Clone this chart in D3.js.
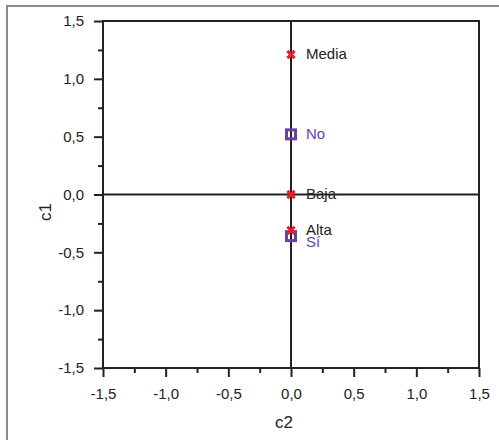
<!DOCTYPE html>
<html>
<head>
<meta charset="utf-8">
<script src="https://cdn.jsdelivr.net/npm/d3@7"></script>
<style>
  body { margin: 0; background: #fff; }
  text { font-family: "Liberation Sans", Arial, sans-serif; fill: #222; }
</style>
</head>
<body>
<svg id="chart" width="499" height="440"></svg>
<script>
// Row categories (red crosses) and column categories (purple squares)
const rowLabels = ['Media', 'Baja', 'Alta'];
const rowC2 = [0.0, 0.0, 0.0];
const rowC1 = [1.21, 0.0, -0.31];
const colLabels = ['No', 'Sí'];
const colC2 = [0.0, 0.0];
const colC1 = [0.52, -0.36];
const tickValues = [-1.5, -1.0, -0.5, 0.0, 0.5, 1.0, 1.5];
const minorTicks = [-1.25, -0.75, -0.25, 0.25, 0.75, 1.25];

function renderChart() {
  const svg = d3.select('#chart');
  const margin = {top: 21, left: 103};
  const w = 376, h = 347;
  const fmt = d => d3.format('.1f')(d).replace('.', ',').replace('−', '-');

  // outer frame (clipped by window)
  svg.append('rect')
    .attr('x', 7).attr('y', 6).attr('width', 600).attr('height', 600)
    .attr('fill', 'none').attr('stroke', '#8a8a8a').attr('stroke-width', 2);

  const g = svg.append('g').attr('transform', `translate(${margin.left},${margin.top})`);

  const x = d3.scaleLinear().domain([-1.5, 1.5]).range([0, w]);
  const y = d3.scaleLinear().domain([-1.5, 1.5]).range([h, 0]);

  // Minor ticks
  g.append('g').attr('transform', `translate(0,${h})`)
    .call(d3.axisBottom(x).tickValues(minorTicks).tickSize(5).tickFormat(''))
    .call(a => a.select('.domain').remove());
  g.append('g')
    .call(d3.axisLeft(y).tickValues(minorTicks).tickSize(5).tickFormat(''))
    .call(a => a.select('.domain').remove());

  // Major axes
  g.append('g').attr('transform', `translate(0,${h})`)
    .call(d3.axisBottom(x).tickValues(tickValues).tickSize(9).tickPadding(11).tickFormat(fmt));
  g.append('g')
    .call(d3.axisLeft(y).tickValues(tickValues).tickSize(9).tickPadding(10).tickFormat(fmt));

  g.selectAll('.tick line').attr('stroke', '#222').attr('stroke-width', 2);
  g.selectAll('.domain').remove();
  g.selectAll('.tick text').attr('font-size', '15px').attr('fill', '#222')
    .attr('font-family', '"Liberation Sans", Arial, sans-serif');

  // Plot frame
  g.append('rect').attr('width', w).attr('height', h)
    .attr('fill', 'none').attr('stroke', '#222').attr('stroke-width', 2);

  // Zero lines
  g.append('line').attr('x1', 0).attr('x2', w).attr('y1', y(0)).attr('y2', y(0))
    .attr('stroke', '#222').attr('stroke-width', 2);
  g.append('line').attr('x1', x(0)).attr('x2', x(0)).attr('y1', 0).attr('y2', h)
    .attr('stroke', '#222').attr('stroke-width', 2);

  // Column points: purple squares
  const cols = colLabels.map((l, i) => ({l, x: colC2[i], y: colC1[i]}));
  g.selectAll('rect.col').data(cols).enter().append('rect')
    .attr('class', 'col')
    .attr('x', d => x(d.x) - 4.5).attr('y', d => y(d.y) - 4.5)
    .attr('width', 9).attr('height', 9)
    .attr('fill', 'none').attr('stroke', '#6a3fa6').attr('stroke-width', 3);

  // Row points: red crosses
  const rows = rowLabels.map((l, i) => ({l, x: rowC2[i], y: rowC1[i]}));
  g.selectAll('path.row').data(rows).enter().append('path')
    .attr('class', 'row')
    .attr('d', d3.symbol().type(d3.symbolX).size(36))
    .attr('transform', d => `translate(${x(d.x)},${y(d.y)})`)
    .attr('stroke', '#e8202a').attr('stroke-width', 3).attr('fill', 'none');

  // Labels
  g.selectAll('text.rowlab').data(rows).enter().append('text')
    .attr('class', 'rowlab')
    .attr('x', d => x(d.x) + 15).attr('y', d => y(d.y) + 4.5)
    .attr('font-size', '15px').text(d => d.l);
  g.selectAll('text.collab').data(cols).enter().append('text')
    .attr('class', 'collab')
    .attr('x', d => x(d.x) + 15)
    .attr('y', (d, i) => y(d.y) + (i === 1 ? 10.5 : 4.5))
    .attr('font-size', '15px').style('fill', '#6a3fa6').text(d => d.l);

  // Axis titles
  svg.append('text').attr('x', 284).attr('y', 428)
    .attr('text-anchor', 'middle').attr('font-size', '17px').text('c2');
  svg.append('text').attr('transform', 'translate(51,212) rotate(-90)')
    .attr('text-anchor', 'middle').attr('font-size', '17px').text('c1');
}

renderChart();
</script>
</body>
</html>
